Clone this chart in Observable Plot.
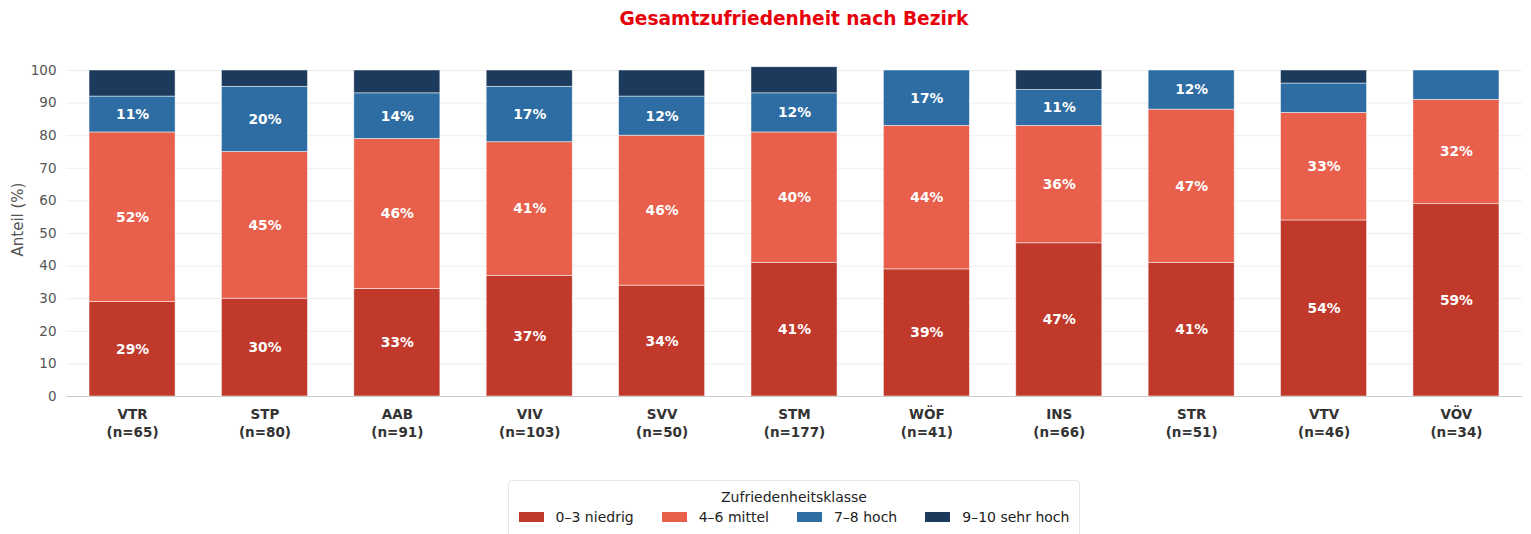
<!DOCTYPE html>
<html><head><meta charset="utf-8">
<script src="https://cdn.jsdelivr.net/npm/d3@7"></script>
<script src="https://cdn.jsdelivr.net/npm/@observablehq/plot@0.6"></script>
<style>
body{margin:0;background:#fff;font-family:"DejaVu Sans",sans-serif;}
#title{height:38px;line-height:38px;font-size:18.6px;font-weight:bold;color:#e8000b;text-align:center;width:1456px;margin-left:66px;}
#legend{position:absolute;left:508px;top:480px;width:572px;height:60px;border:1px solid #e6e6e6;border-radius:4px;box-sizing:border-box;text-align:center;font-size:14px;color:#222;}
#legend .lt{margin-top:8px;white-space:nowrap;}
#legend .items{display:flex;justify-content:center;margin-top:4px;white-space:nowrap;}
#legend .it{display:flex;align-items:center;margin:0 14px;white-space:nowrap;}
#legend .sw{width:25px;height:10px;margin-right:12px;flex:none;}
</style></head>
<body>
<div id="title">Gesamtzufriedenheit nach Bezirk</div>
<div id="chart"></div>
<div id="legend"></div>
<script>
const districts = ["VTR","STP","AAB","VIV","SVV","STM","WÖF","INS","STR","VTV","VÖV"];
const sampleSizes = [65,80,91,103,50,177,41,66,51,46,34];
const classes = ["0–3 niedrig","4–6 mittel","7–8 hoch","9–10 sehr hoch"];
const colors = ["#c0392b","#e8604c","#2e6da4","#1b3a5c"];
const low      = [29,30,33,37,34,41,39,47,41,54,59];
const mid      = [52,45,46,41,46,40,44,36,47,33,32];
const high     = [11,20,14,17,12,12,17,11,12,9,9];
const veryHigh = [8,5,7,5,8,8,0,6,0,4,0];
const yTicks = [0,10,20,30,40,50,60,70,80,90,100];
const yLabel = "Anteil (%)";

const series = [low, mid, high, veryHigh];
const data = [];
districts.forEach((d,i)=>{
  classes.forEach((c,k)=>{
    data.push({district:d, cls:c, value:series[k][i]});
  });
});
const labelOf = new Map(districts.map((d,i)=>[d, `${d}\n(n=${sampleSizes[i]})`]));

const chart = Plot.plot({
  width: 1531,
  height: 420,
  marginLeft: 66,
  marginRight: 9,
  marginTop: 32,
  marginBottom: 62,
  style: {fontFamily: "DejaVu Sans, sans-serif", fontSize: "13.5px", color: "#555"},
  x: {domain: districts, paddingInner: 0.35, paddingOuter: 0.174, round: false, label: null},
  y: {domain: [0,100], label: null},
  color: {domain: classes, range: colors},
  marks: [
    Plot.gridY(yTicks, {stroke: "#eeeeee", strokeOpacity: 1}),
    Plot.barY(data, {x: "district", y: "value", fill: "cls", order: classes, stroke: "white", strokeWidth: 0.8, strokeOpacity: 0.6}),
    Plot.text(data, Plot.stackY({x: "district", y: "value", z: "cls", order: classes,
      text: d => d.value >= 10 ? d.value + "%" : "", fill: "white", fontWeight: "bold", fontSize: 13.8})),
    Plot.ruleY([0], {stroke: "#cccccc"}),
    Plot.axisY(yTicks, {tickSize: 0, tickPadding: 10, fill: "#555", fontSize: 13.5, label: null}),
    Plot.text([yLabel], {frameAnchor: "left", textAnchor: "middle", dx: -48, dy: -14, rotate: -90, fill: "#555", fontSize: 15}),
    Plot.axisX({tickSize: 0, tickPadding: 10, tickFormat: d => labelOf.get(d), fontWeight: "bold", fill: "#333", fontSize: 13.5, lineHeight: 1.3, label: null})
  ]
});
document.getElementById("chart").appendChild(chart);

const lg = document.getElementById("legend");
lg.innerHTML = `<div class="lt">Zufriedenheitsklasse</div><div class="items">` +
  classes.map((c,i)=>`<div class="it"><div class="sw" style="background:${colors[i]}"></div>${c}</div>`).join("") + `</div>`;
</script>
</body></html>
